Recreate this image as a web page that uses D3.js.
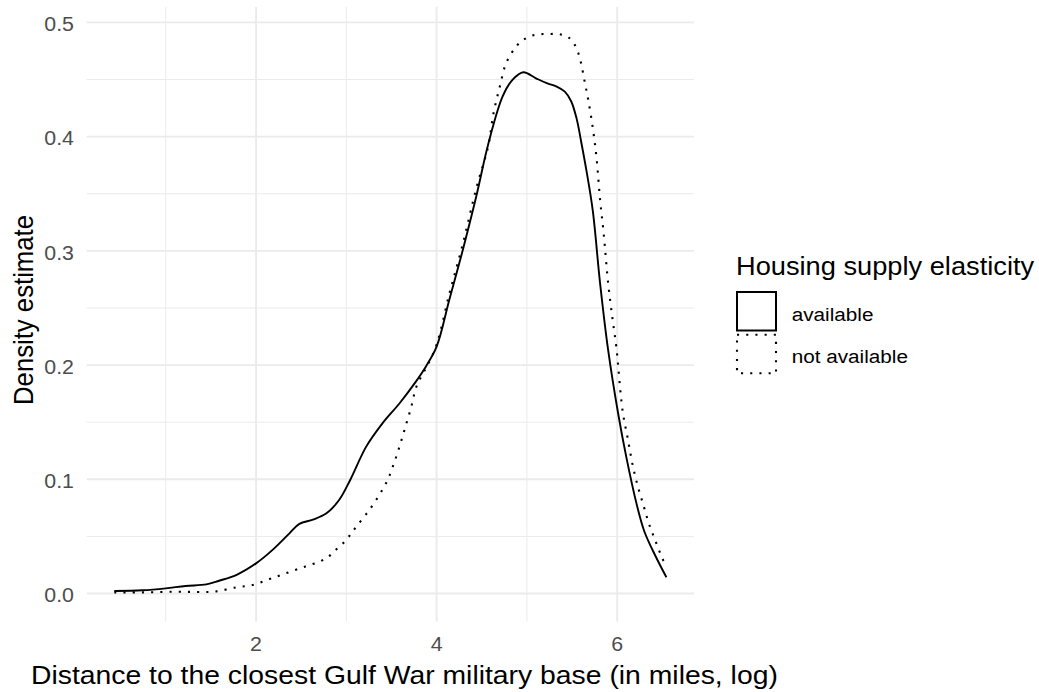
<!DOCTYPE html>
<html>
<head>
<meta charset="utf-8">
<script src="https://cdn.jsdelivr.net/npm/d3@7"></script>
<style>
  html, body { margin: 0; padding: 0; background: #ffffff; }
  svg { display: block; }
</style>
</head>
<body>
<svg id="chart" width="1039" height="692"></svg>
<script>
// ---- data ----
const seriesNames = ["available", "not available"];

const availableX = [0.43, 0.74, 1.00, 1.22, 1.45, 1.59, 1.78, 2.00, 2.18, 2.37, 2.48, 2.63, 2.78, 2.92, 3.04,
  3.22, 3.40, 3.59, 3.77, 3.88, 4.00, 4.14, 4.29, 4.44, 4.57, 4.73, 4.84, 4.96, 5.10, 5.22, 5.33,
  5.42, 5.49, 5.55, 5.60, 5.66, 5.73, 5.81, 5.90, 6.01, 6.10, 6.21, 6.30, 6.42, 6.545];
const availableY = [0.0022, 0.0028, 0.0045, 0.0066, 0.0080, 0.0112, 0.0162, 0.0264, 0.0380, 0.0527, 0.0610, 0.0647, 0.0702, 0.0819, 0.0990,
  0.1286, 0.1490, 0.1666, 0.1855, 0.1986, 0.2161, 0.2570, 0.3008, 0.3480, 0.3930, 0.4350, 0.4497, 0.4564, 0.4511, 0.4468, 0.4438,
  0.4394, 0.4310, 0.4160, 0.3960, 0.3700, 0.3350, 0.2720, 0.2130, 0.1578, 0.1198, 0.0800, 0.0545, 0.0335, 0.0142];

const notAvailableX = [0.43, 0.74, 1.15, 1.37, 1.56, 1.78, 1.96, 2.15, 2.33, 2.54, 2.72, 2.81, 2.89, 2.98, 3.05, 3.11,
  3.24, 3.36, 3.46, 3.53, 3.60, 3.66, 3.72, 3.77, 3.83, 3.90, 4.00, 4.14, 4.29, 4.44, 4.57, 4.63, 4.70, 4.77,
  4.88, 4.96, 5.05, 5.15, 5.25, 5.36, 5.46, 5.53, 5.57, 5.60, 5.64, 5.68, 5.73, 5.77, 5.81, 5.85, 5.90, 5.95,
  5.99, 6.06, 6.12, 6.175, 6.23, 6.29, 6.35, 6.42, 6.50, 6.54];
const notAvailableY = [0.0010, 0.0010, 0.0016, 0.0013, 0.0019, 0.0054, 0.0074, 0.0127, 0.0177, 0.0235, 0.0285, 0.0328, 0.0387, 0.0454, 0.0521, 0.0585,
  0.0716, 0.0856, 0.1000, 0.1145, 0.1315, 0.1475, 0.1636, 0.1797, 0.1900, 0.2000, 0.2180, 0.2620, 0.3060, 0.3550, 0.3912, 0.4205, 0.4438, 0.4643,
  0.4788, 0.4847, 0.4882, 0.4897, 0.4899, 0.4897, 0.4870, 0.4803, 0.4730, 0.4643, 0.4480, 0.4320, 0.4073, 0.3825, 0.3450, 0.3154, 0.2716, 0.2395,
  0.2161, 0.1600, 0.1344, 0.1110, 0.0935, 0.0775, 0.0615, 0.0468, 0.0308, 0.0240];

const xTicks = [2, 4, 6];
const xMinorTicks = [1, 3, 5];
const yTicks = [0, 0.1, 0.2, 0.3, 0.4, 0.5];
const yMinorTicks = [0.05, 0.15, 0.25, 0.35, 0.45];
const xTitle = "Distance to the closest Gulf War military base (in miles, log)";
const yTitle = "Density estimate";
const legendTitle = "Housing supply elasticity";

// ---- layout ----
const svg = d3.select("#chart");
const panel = { left: 86.7, right: 694, top: 7, bottom: 621.5 };
const FONT = "'Liberation Sans', Arial, Helvetica, sans-serif";
const SX = 1.09; // horizontal stretch of the reference rendering

svg.append("rect").attr("width", 1039).attr("height", 692).attr("fill", "#ffffff");

const allX = availableX.concat(notAvailableX);
const xMin = d3.min(allX), xMax = d3.max(allX);
const xPad = (xMax - xMin) * 0.05;
const x = d3.scaleLinear().domain([xMin - xPad, xMax + xPad]).range([panel.left, panel.right]);
const y = d3.scaleLinear().domain([-0.0245, 0.5135]).range([panel.bottom, panel.top]);

// ---- grid ----
const grid = svg.append("g");
grid.selectAll(".xminor").data(xMinorTicks).join("line")
  .attr("x1", d => x(d)).attr("x2", d => x(d))
  .attr("y1", panel.top).attr("y2", panel.bottom)
  .attr("stroke", "#EBEBEB").attr("stroke-width", 1);
grid.selectAll(".yminor").data(yMinorTicks).join("line")
  .attr("x1", panel.left).attr("x2", panel.right)
  .attr("y1", d => y(d)).attr("y2", d => y(d))
  .attr("stroke", "#EBEBEB").attr("stroke-width", 1);
grid.selectAll(".xmajor").data(xTicks).join("line")
  .attr("x1", d => x(d)).attr("x2", d => x(d))
  .attr("y1", panel.top).attr("y2", panel.bottom)
  .attr("stroke", "#EBEBEB").attr("stroke-width", 1.9);
grid.selectAll(".ymajor").data(yTicks).join("line")
  .attr("x1", panel.left).attr("x2", panel.right)
  .attr("y1", d => y(d)).attr("y2", d => y(d))
  .attr("stroke", "#EBEBEB").attr("stroke-width", 1.9);

// ---- tick labels ----
function stext(parent, px, py, str, size, anchor, color) {
  return parent.append("text")
    .attr("transform", `translate(${px},${py}) scale(${SX},1)`)
    .attr("text-anchor", anchor)
    .attr("font-family", FONT)
    .attr("font-size", size)
    .attr("fill", color)
    .text(str);
}
const fmtY = d3.format(".1f");
const axes = svg.append("g");
xTicks.forEach(t => stext(axes, x(t), 651, String(t), 19.6, "middle", "#4D4D4D"));
yTicks.forEach(t => stext(axes, 74, y(t) + 8.7, fmtY(t), 19.6, "end", "#4D4D4D"));

// ---- axis titles ----
stext(svg, 31, 684, xTitle, 26, "start", "#000000");
svg.append("text")
  .attr("transform", `translate(32.5,310) scale(${SX},1) rotate(-90)`)
  .attr("text-anchor", "middle")
  .attr("font-family", FONT)
  .attr("font-size", 25.7)
  .attr("fill", "#000000")
  .text(yTitle);

// ---- density lines ----
const line = d3.line().x(d => x(d[0])).y(d => y(d[1])).curve(d3.curveCatmullRom.alpha(0.5));
const availData = d3.zip(availableX, availableY);
const notAvailData = d3.zip(notAvailableX, notAvailableY);

svg.append("path").datum(notAvailData)
  .attr("d", line).attr("fill", "none").attr("stroke", "#000000")
  .attr("stroke-width", 2.1).attr("stroke-dasharray", "2.1,7.1");
svg.append("path").datum(availData)
  .attr("d", line).attr("fill", "none").attr("stroke", "#000000")
  .attr("stroke-width", 1.9).attr("stroke-linejoin", "round");

// ---- legend ----
const legend = svg.append("g");
stext(legend, 736, 275, legendTitle, 25, "start", "#000000");
const keyStyles = [null, "2.1,7.1"];
seriesNames.forEach((name, i) => {
  const ky = 292 + i * 42.8;
  const r = legend.append("rect")
    .attr("x", 737).attr("y", ky).attr("width", 39).attr("height", 38.5)
    .attr("fill", "#ffffff").attr("stroke", "#000000").attr("stroke-width", 2);
  if (keyStyles[i]) r.attr("stroke-dasharray", keyStyles[i]).attr("stroke-width", 2.1);
  stext(legend, 791.7, ky + 28.5, name, 19, "start", "#000000");
});
</script>
</body>
</html>
